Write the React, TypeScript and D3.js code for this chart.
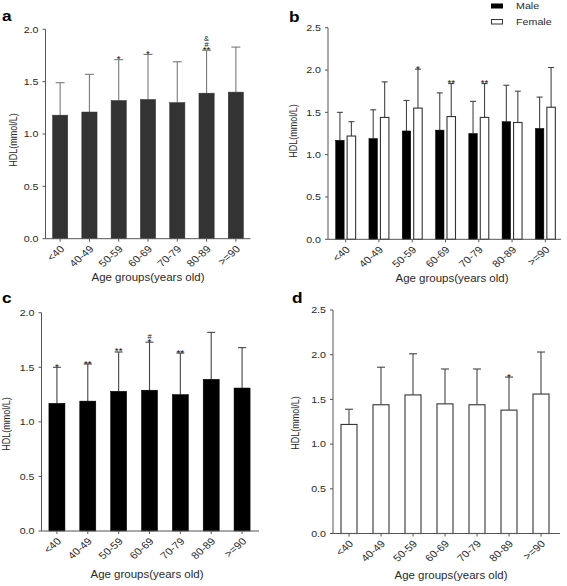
import React from "react";
import * as d3 from "d3";

const categories = ["<40", "40-49", "50-59", "60-69", "70-79", "80-89", ">=90"];
const sexes = ["Male", "Female"];

const totalMean = [1.18, 1.21, 1.32, 1.33, 1.3, 1.39, 1.4];
const totalSD = [0.31, 0.36, 0.39, 0.43, 0.39, 0.41, 0.43];

const maleMean = [1.17, 1.19, 1.28, 1.29, 1.25, 1.39, 1.31];
const maleSD = [0.33, 0.34, 0.36, 0.44, 0.38, 0.43, 0.37];

const femaleMean = [1.22, 1.44, 1.55, 1.45, 1.44, 1.38, 1.56];
const femaleSD = [0.17, 0.42, 0.46, 0.39, 0.4, 0.37, 0.47];

const ticks2 = [0, 0.5, 1.0, 1.5, 2.0];
const ticks25 = [0, 0.5, 1.0, 1.5, 2.0, 2.5];

// significance marks, listed bottom to top
const notesTotal = [[], [], ["*"], ["*"], [], ["**", "#", "&"], []];
const notesFemaleB = [[], [], ["*"], ["**"], ["**"], [], []];
const notesMale = [["*"], ["**"], ["**"], ["*", "#"], ["**"], [], []];
const notesFemale = [[], [], [], [], [], ["*"], []];

const yTitle = "HDL(mmol/L)";
const xTitle = "Age groups(years old)";

const FONT = "'Liberation Sans', Arial, sans-serif";
const SX = 1.15;
const AXIS = "#555";
const fmt = d3.format(".1f");

function T({ x, y, rot = 0, size = 9.5, anchor = "start", weight = "normal", dy = "0", fill = "#2a2a2a", children }: any) {
  return (
    <text
      transform={`translate(${x},${y}) scale(${SX},1) rotate(${rot})`}
      fontSize={size}
      fontFamily={FONT}
      textAnchor={anchor}
      fontWeight={weight}
      dy={dy}
      fill={fill}
    >
      {children}
    </text>
  );
}

function Axes({ xScale, y, x0, xEnd, yTicks, y0 }: any) {
  const yTopV = yTicks[yTicks.length - 1];
  return (
    <g>
      <line x1={x0} x2={x0} y1={y(0)} y2={y(yTopV)} stroke={AXIS} strokeWidth={1} />
      <line x1={x0} x2={xEnd} y1={y0} y2={y0} stroke={AXIS} strokeWidth={1} />
      {yTicks.map((t: number) => (
        <g key={t}>
          <line x1={x0 - 3} x2={x0} y1={y(t)} y2={y(t)} stroke={AXIS} />
          <T x={x0 - 7} y={y(t)} anchor="end" dy="0.35em" size={9.3}>
            {fmt(t)}
          </T>
        </g>
      ))}
      {categories.map((c) => {
        const cx = (xScale(c) as number) + xScale.bandwidth() / 2;
        return (
          <g key={c}>
            <line x1={cx} x2={cx} y1={y0} y2={y0 + 3} stroke={AXIS} />
            <T x={cx + 5} y={y0 + 11} rot={-45} anchor="end" size={9.8}>
              {c}
            </T>
          </g>
        );
      })}
    </g>
  );
}

function Notes({ cx, top, notes }: any) {
  return (
    <g>
      {notes.map((n: string, k: number) => (
        <T key={k} x={cx} y={top + 2.5 - k * 6} anchor="middle" size={n === "*" || n === "**" ? 8.5 : 6.5} fill="#111">
          {n}
        </T>
      ))}
    </g>
  );
}

function SinglePanel(p: any) {
  const y = d3.scaleLinear().domain([0, p.yMax]).range([p.yZero, p.yTopPx]);
  const x = d3
    .scaleBand()
    .domain(categories)
    .range([p.x0, p.x1])
    .paddingInner(p.pad)
    .paddingOuter(p.pad / 2);
  const y0 = y(0);
  return (
    <g>
      {categories.map((c, i) => {
        const bx = x(c) as number;
        const bw = x.bandwidth();
        const cx = bx + bw / 2;
        const top = y(p.means[i]);
        const et = y(p.means[i] + p.sds[i]);
        return (
          <g key={c}>
            <line x1={cx} x2={cx} y1={top} y2={et} stroke={p.errColor} strokeWidth={1.1} />
            <line x1={cx - p.cap / 2} x2={cx + p.cap / 2} y1={et} y2={et} stroke={p.errColor} strokeWidth={1.1} />
            <rect
              x={bx}
              y={top}
              width={bw}
              height={y0 - top}
              fill={p.fill}
              stroke={p.stroke}
              strokeWidth={p.fill === "#ffffff" ? 1.1 : 0.5}
            />
            <Notes cx={cx} top={et} notes={p.notes[i]} />
          </g>
        );
      })}
      <Axes xScale={x} y={y} x0={p.x0} xEnd={p.xEnd} yTicks={p.ticks} y0={y0} />
      <T x={p.yTitleX} y={p.yTitleY} rot={-90} anchor="middle" size={9}>
        {yTitle}
      </T>
      <T x={p.xTitleX} y={p.xTitleY} anchor="middle" size={10}>
        {xTitle}
      </T>
      <T x={p.letterX} y={p.letterY} size={15} weight="bold" fill="#000">
        {p.letter}
      </T>
    </g>
  );
}

function GroupedPanel(p: any) {
  const y = d3.scaleLinear().domain([0, p.yMax]).range([p.yZero, p.yTopPx]);
  const x = d3
    .scaleBand()
    .domain(categories)
    .range([p.x0r, p.x1])
    .paddingInner(0.4)
    .paddingOuter(0.2);
  const xs = d3.scaleBand().domain(sexes).range([0, x.bandwidth()]).paddingInner(0.26);
  const y0 = y(0);
  const series = [
    { key: "Male", means: maleMean, sds: maleSD, fill: "#000000", notes: categories.map(() => []) },
    { key: "Female", means: femaleMean, sds: femaleSD, fill: "#ffffff", notes: notesFemaleB },
  ];
  return (
    <g>
      {categories.map((c, i) => (
        <g key={c}>
          {series.map((s) => {
            const bx = (x(c) as number) + (xs(s.key) as number);
            const bw = xs.bandwidth();
            const cx = bx + bw / 2;
            const top = y(s.means[i]);
            const et = y(s.means[i] + s.sds[i]);
            return (
              <g key={s.key}>
                <line x1={cx} x2={cx} y1={top} y2={et} stroke="#444" strokeWidth={1.1} />
                <line x1={cx - 3} x2={cx + 3} y1={et} y2={et} stroke="#444" strokeWidth={1.1} />
                <rect
                  x={bx}
                  y={top}
                  width={bw}
                  height={y0 - top}
                  fill={s.fill}
                  stroke={s.key === "Male" ? "#000" : "#333"}
                  strokeWidth={s.key === "Male" ? 0.5 : 1.1}
                />
                <Notes cx={cx} top={et} notes={s.notes[i]} />
              </g>
            );
          })}
        </g>
      ))}
      <Axes xScale={x} y={y} x0={p.x0} xEnd={p.xEnd} yTicks={p.ticks} y0={y0} />
      <T x={p.yTitleX} y={p.yTitleY} rot={-90} anchor="middle" size={9}>
        {yTitle}
      </T>
      <T x={p.xTitleX} y={p.xTitleY} anchor="middle" size={10}>
        {xTitle}
      </T>
      <T x={p.letterX} y={p.letterY} size={15} weight="bold" fill="#000">
        {p.letter}
      </T>
      {/* legend */}
      <rect x={491} y={3.5} width={12} height={5} fill="#000" />
      <rect x={491.5} y={19.5} width={11} height={4.5} fill="#fff" stroke="#333" strokeWidth={1} />
      <T x={516} y={6} dy="0.35em" size={9.3}>
        {sexes[0]}
      </T>
      <T x={516} y={22} dy="0.35em" size={9.3}>
        {sexes[1]}
      </T>
    </g>
  );
}

export default function App() {
  return (
    <svg
      width={567}
      height={586}
      style={{ position: "absolute", left: 0, top: 0, background: "#fff" }}
    >
      <rect width={567} height={586} fill="#fff" />
      <SinglePanel
        x0={45.5}
        x1={250.5}
        xEnd={250.5}
        pad={0.48}
        yZero={238.7}
        yTopPx={29.3}
        yMax={2}
        ticks={ticks2}
        means={totalMean}
        sds={totalSD}
        fill="#333333"
        stroke="#333333"
        errColor="#7a7a7a"
        cap={9}
        notes={notesTotal}
        yTitleX={17}
        yTitleY={140}
        xTitleX={148}
        xTitleY={281}
        letter="a"
        letterX={2}
        letterY={21}
      />
      <GroupedPanel
        x0={328}
        x0r={329}
        x1={562}
        xEnd={561}
        yZero={239.3}
        yTopPx={27.7}
        yMax={2.5}
        ticks={ticks25}
        yTitleX={297}
        yTitleY={131}
        xTitleX={452}
        xTitleY={282}
        letter="b"
        letterX={289}
        letterY={22}
      />
      <SinglePanel
        x0={41.5}
        x1={257.5}
        xEnd={259}
        pad={0.48}
        yZero={531}
        yTopPx={312.7}
        yMax={2}
        ticks={ticks2}
        means={maleMean}
        sds={maleSD}
        fill="#000000"
        stroke="#000000"
        errColor="#444"
        cap={8}
        notes={notesMale}
        yTitleX={10}
        yTitleY={424}
        xTitleX={147}
        xTitleY={578}
        letter="c"
        letterX={2}
        letterY={303}
      />
      <SinglePanel
        x0={333}
        x1={557}
        xEnd={560}
        pad={0.5}
        yZero={533.5}
        yTopPx={310}
        yMax={2.5}
        ticks={ticks25}
        means={femaleMean}
        sds={femaleSD}
        fill="#ffffff"
        stroke="#333"
        errColor="#444"
        cap={8}
        notes={notesFemale}
        yTitleX={298.5}
        yTitleY={423}
        xTitleX={451}
        xTitleY={579}
        letter="d"
        letterX={292}
        letterY={303}
      />
    </svg>
  );
}
